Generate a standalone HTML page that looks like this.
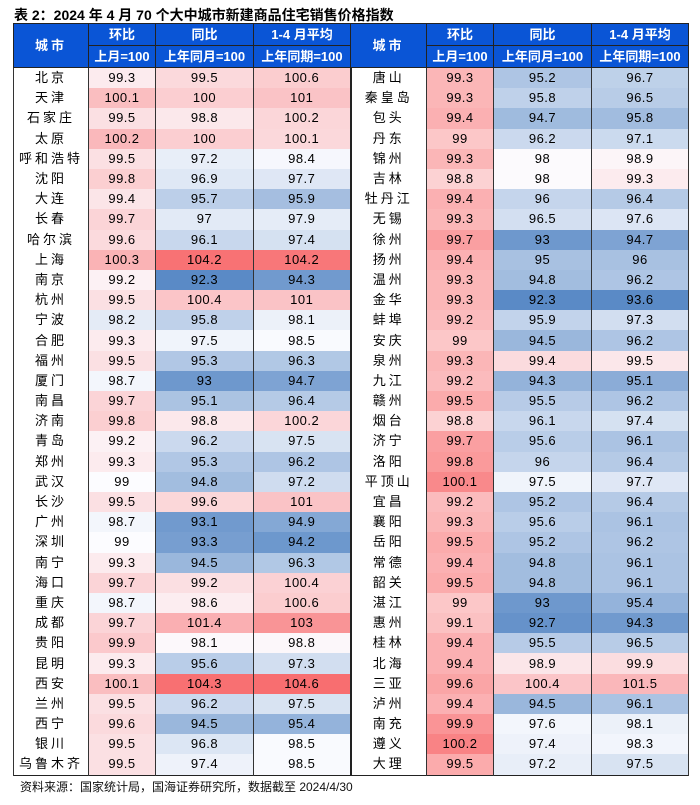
<!DOCTYPE html>
<html><head><meta charset="utf-8">
<style>
body{margin:0;width:700px;height:805px;background:#fff;position:relative;font-family:"Liberation Sans","Noto Sans CJK SC",sans-serif;overflow:hidden}
.t{position:absolute;left:14px;top:5px;font-size:14px;font-weight:bold;color:#000;white-space:nowrap}
.src{position:absolute;left:20px;top:778px;font-size:12px;color:#111;white-space:nowrap}
table{position:absolute;left:13px;top:23px;border-collapse:collapse;table-layout:fixed;border:1.5px solid #222}
td{padding:0;text-align:center;font-size:13px;color:#000;height:20.2px;line-height:20px;border-left:1px solid #333;border-right:1px solid #333;white-space:nowrap;letter-spacing:0.5px}
td.c{letter-spacing:3px;font-family:"Liberation Sans","Noto Sans CJK SC",sans-serif}
tr.h td{background:#0a55d6;color:#fff;font-weight:bold;border:1px solid #222;height:21px;line-height:20px;letter-spacing:0}
tr.h td.c{letter-spacing:3px}
td.sep{border-left:2px solid #222}
</style></head><body>
<div class="t">表 2：2024 年 4 月 70 个大中城市新建商品住宅销售价格指数</div>
<table>
<colgroup><col style="width:75px"><col style="width:67px"><col style="width:98px"><col style="width:97px"><col style="width:76px"><col style="width:67px"><col style="width:98px"><col style="width:97px"></colgroup>
<tr class="h"><td rowspan="2" class="c">城市</td><td>环比</td><td>同比</td><td>1-4 月平均</td><td rowspan="2" class="c sep">城市</td><td>环比</td><td>同比</td><td>1-4 月平均</td></tr>
<tr class="h"><td>上月=100</td><td>上年同月=100</td><td>上年同期=100</td><td>上月=100</td><td>上年同月=100</td><td>上年同期=100</td></tr>
<tbody id="tb">
<tr><td class="c">北京</td><td>99.3</td><td>99.5</td><td>100.6</td><td class="c sep">唐山</td><td>99.3</td><td>95.2</td><td>96.7</td></tr>
<tr><td class="c">天津</td><td>100.1</td><td>100</td><td>101</td><td class="c sep">秦皇岛</td><td>99.3</td><td>95.8</td><td>96.5</td></tr>
<tr><td class="c">石家庄</td><td>99.5</td><td>98.8</td><td>100.2</td><td class="c sep">包头</td><td>99.4</td><td>94.7</td><td>95.8</td></tr>
<tr><td class="c">太原</td><td>100.2</td><td>100</td><td>100.1</td><td class="c sep">丹东</td><td>99</td><td>96.2</td><td>97.1</td></tr>
<tr><td class="c">呼和浩特</td><td>99.5</td><td>97.2</td><td>98.4</td><td class="c sep">锦州</td><td>99.3</td><td>98</td><td>98.9</td></tr>
<tr><td class="c">沈阳</td><td>99.8</td><td>96.9</td><td>97.7</td><td class="c sep">吉林</td><td>98.8</td><td>98</td><td>99.3</td></tr>
<tr><td class="c">大连</td><td>99.4</td><td>95.7</td><td>95.9</td><td class="c sep">牡丹江</td><td>99.4</td><td>96</td><td>96.4</td></tr>
<tr><td class="c">长春</td><td>99.7</td><td>97</td><td>97.9</td><td class="c sep">无锡</td><td>99.3</td><td>96.5</td><td>97.6</td></tr>
<tr><td class="c">哈尔滨</td><td>99.6</td><td>96.1</td><td>97.4</td><td class="c sep">徐州</td><td>99.7</td><td>93</td><td>94.7</td></tr>
<tr><td class="c">上海</td><td>100.3</td><td>104.2</td><td>104.2</td><td class="c sep">扬州</td><td>99.4</td><td>95</td><td>96</td></tr>
<tr><td class="c">南京</td><td>99.2</td><td>92.3</td><td>94.3</td><td class="c sep">温州</td><td>99.3</td><td>94.8</td><td>96.2</td></tr>
<tr><td class="c">杭州</td><td>99.5</td><td>100.4</td><td>101</td><td class="c sep">金华</td><td>99.3</td><td>92.3</td><td>93.6</td></tr>
<tr><td class="c">宁波</td><td>98.2</td><td>95.8</td><td>98.1</td><td class="c sep">蚌埠</td><td>99.2</td><td>95.9</td><td>97.3</td></tr>
<tr><td class="c">合肥</td><td>99.3</td><td>97.5</td><td>98.5</td><td class="c sep">安庆</td><td>99</td><td>94.5</td><td>96.2</td></tr>
<tr><td class="c">福州</td><td>99.5</td><td>95.3</td><td>96.3</td><td class="c sep">泉州</td><td>99.3</td><td>99.4</td><td>99.5</td></tr>
<tr><td class="c">厦门</td><td>98.7</td><td>93</td><td>94.7</td><td class="c sep">九江</td><td>99.2</td><td>94.3</td><td>95.1</td></tr>
<tr><td class="c">南昌</td><td>99.7</td><td>95.1</td><td>96.4</td><td class="c sep">赣州</td><td>99.5</td><td>95.5</td><td>96.2</td></tr>
<tr><td class="c">济南</td><td>99.8</td><td>98.8</td><td>100.2</td><td class="c sep">烟台</td><td>98.8</td><td>96.1</td><td>97.4</td></tr>
<tr><td class="c">青岛</td><td>99.2</td><td>96.2</td><td>97.5</td><td class="c sep">济宁</td><td>99.7</td><td>95.6</td><td>96.1</td></tr>
<tr><td class="c">郑州</td><td>99.3</td><td>95.3</td><td>96.2</td><td class="c sep">洛阳</td><td>99.8</td><td>96</td><td>96.4</td></tr>
<tr><td class="c">武汉</td><td>99</td><td>94.8</td><td>97.2</td><td class="c sep">平顶山</td><td>100.1</td><td>97.5</td><td>97.7</td></tr>
<tr><td class="c">长沙</td><td>99.5</td><td>99.6</td><td>101</td><td class="c sep">宜昌</td><td>99.2</td><td>95.2</td><td>96.4</td></tr>
<tr><td class="c">广州</td><td>98.7</td><td>93.1</td><td>94.9</td><td class="c sep">襄阳</td><td>99.3</td><td>95.6</td><td>96.1</td></tr>
<tr><td class="c">深圳</td><td>99</td><td>93.3</td><td>94.2</td><td class="c sep">岳阳</td><td>99.5</td><td>95.2</td><td>96.2</td></tr>
<tr><td class="c">南宁</td><td>99.3</td><td>94.5</td><td>96.3</td><td class="c sep">常德</td><td>99.4</td><td>94.8</td><td>96.1</td></tr>
<tr><td class="c">海口</td><td>99.7</td><td>99.2</td><td>100.4</td><td class="c sep">韶关</td><td>99.5</td><td>94.8</td><td>96.1</td></tr>
<tr><td class="c">重庆</td><td>98.7</td><td>98.6</td><td>100.6</td><td class="c sep">湛江</td><td>99</td><td>93</td><td>95.4</td></tr>
<tr><td class="c">成都</td><td>99.7</td><td>101.4</td><td>103</td><td class="c sep">惠州</td><td>99.1</td><td>92.7</td><td>94.3</td></tr>
<tr><td class="c">贵阳</td><td>99.9</td><td>98.1</td><td>98.8</td><td class="c sep">桂林</td><td>99.4</td><td>95.5</td><td>96.5</td></tr>
<tr><td class="c">昆明</td><td>99.3</td><td>95.6</td><td>97.3</td><td class="c sep">北海</td><td>99.4</td><td>98.9</td><td>99.9</td></tr>
<tr><td class="c">西安</td><td>100.1</td><td>104.3</td><td>104.6</td><td class="c sep">三亚</td><td>99.6</td><td>100.4</td><td>101.5</td></tr>
<tr><td class="c">兰州</td><td>99.5</td><td>96.2</td><td>97.5</td><td class="c sep">泸州</td><td>99.4</td><td>94.5</td><td>96.1</td></tr>
<tr><td class="c">西宁</td><td>99.6</td><td>94.5</td><td>95.4</td><td class="c sep">南充</td><td>99.9</td><td>97.6</td><td>98.1</td></tr>
<tr><td class="c">银川</td><td>99.5</td><td>96.8</td><td>98.5</td><td class="c sep">遵义</td><td>100.2</td><td>97.4</td><td>98.3</td></tr>
<tr><td class="c">乌鲁木齐</td><td>99.5</td><td>97.4</td><td>98.5</td><td class="c sep">大理</td><td>99.5</td><td>97.2</td><td>97.5</td></tr>
</tbody></table>
<div class="src">资料来源：国家统计局，国海证券研究所，数据截至 2024/4/30</div>
<script>
function mix(a,b,t){t=Math.max(0,Math.min(1,t));return 'rgb('+[0,1,2].map(i=>Math.round(a[i]+(b[i]-a[i])*t)).join(',')+')';}
var W=[252,252,255],R=[248,105,107],B=[90,138,198];
function tri(v,lo,mid,hi){return v>=mid?mix(W,R,(v-mid)/(hi-mid)):mix(W,B,(mid-v)/(mid-lo));}
var rows=document.querySelectorAll('#tb tr');
rows.forEach(function(r){
 var c=r.children;
 var v=parseFloat(c[1].textContent);
 c[1].style.background=v>=99?mix(W,R,(v-99)/1.3*0.5):mix(W,B,(99-v)/0.8*0.15);
 v=parseFloat(c[5].textContent);
 c[5].style.background=mix([252,210,211],R,(v-98.8)/1.4*0.75);
 [2,6].forEach(function(i){c[i].style.background=tri(parseFloat(c[i].textContent),92.3,97.9,104.6);});
 [3,7].forEach(function(i){c[i].style.background=tri(parseFloat(c[i].textContent),93.6,98.6,104.8);});
});
</script>
</body></html>
